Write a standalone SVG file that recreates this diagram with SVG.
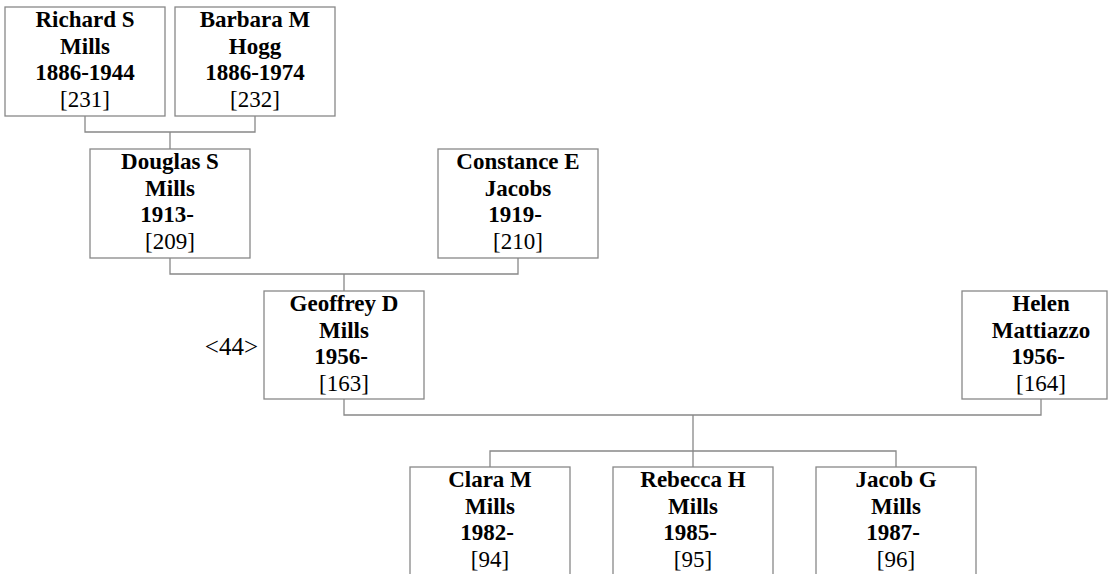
<svg xmlns="http://www.w3.org/2000/svg" width="1111" height="574" viewBox="0 0 1111 574">
<style>
.box{fill:#fff;stroke:#888;stroke-width:1.3}
.c{fill:none;stroke:#888;stroke-width:1.3}
.n{font-family:"Liberation Serif","Times New Roman",serif;font-size:23px;font-weight:bold;fill:#000;text-anchor:middle}
.i{font-family:"Liberation Serif","Times New Roman",serif;font-size:23px;fill:#000;text-anchor:middle}
.r{font-family:"Liberation Serif","Times New Roman",serif;font-size:25px;fill:#000;text-anchor:end}
</style>
<rect width="1111" height="574" fill="#fff"/>
<g id="connectors">
<path class="c" d="M85 116V132H255V116M170 132V149"/>
<path class="c" d="M170 258V274H518V258M344 274V291"/>
<path class="c" d="M344 399V415H1041V399M693 415V467M490 467V451H896V467"/>
</g>
<g id="richard">
<rect class="box" x="5" y="7" width="160" height="109"/>
<text class="n" x="85" y="27">Richard S</text>
<text class="n" x="85" y="53.5">Mills</text>
<text class="n" x="85" y="80">1886-1944</text>
<text class="i" x="85" y="106.5">[231]</text>
</g>
<g id="barbara">
<rect class="box" x="175" y="7" width="160" height="109"/>
<text class="n" x="255" y="27">Barbara M</text>
<text class="n" x="255" y="53.5">Hogg</text>
<text class="n" x="255" y="80">1886-1974</text>
<text class="i" x="255" y="106.5">[232]</text>
</g>
<g id="douglas">
<rect class="box" x="90" y="149" width="160" height="109"/>
<text class="n" x="170" y="169">Douglas S</text>
<text class="n" x="170" y="195.5">Mills</text>
<text class="n" x="167" y="222">1913-</text>
<text class="i" x="170" y="248.5">[209]</text>
</g>
<g id="constance">
<rect class="box" x="438" y="149" width="160" height="109"/>
<text class="n" x="518" y="169">Constance E</text>
<text class="n" x="518" y="195.5">Jacobs</text>
<text class="n" x="515" y="222">1919-</text>
<text class="i" x="518" y="248.5">[210]</text>
</g>
<g id="geoffrey">
<rect class="box" x="264" y="291" width="160" height="108"/>
<text class="n" x="344" y="311">Geoffrey D</text>
<text class="n" x="344" y="337.5">Mills</text>
<text class="n" x="341" y="364">1956-</text>
<text class="i" x="344" y="390.5">[163]</text>
<text class="r" x="258" y="355">&lt;44&gt;</text>
</g>
<g id="helen">
<rect class="box" x="962" y="291" width="145" height="108"/>
<text class="n" x="1041" y="311">Helen</text>
<text class="n" x="1041" y="337.5">Mattiazzo</text>
<text class="n" x="1038" y="364">1956-</text>
<text class="i" x="1041" y="390.5">[164]</text>
</g>
<g id="clara">
<rect class="box" x="410" y="467" width="160" height="110"/>
<text class="n" x="490" y="487">Clara M</text>
<text class="n" x="490" y="513.5">Mills</text>
<text class="n" x="487" y="540">1982-</text>
<text class="i" x="490" y="566.5">[94]</text>
</g>
<g id="rebecca">
<rect class="box" x="613" y="467" width="160" height="110"/>
<text class="n" x="693" y="487">Rebecca H</text>
<text class="n" x="693" y="513.5">Mills</text>
<text class="n" x="690" y="540">1985-</text>
<text class="i" x="693" y="566.5">[95]</text>
</g>
<g id="jacob">
<rect class="box" x="816" y="467" width="160" height="110"/>
<text class="n" x="896" y="487">Jacob G</text>
<text class="n" x="896" y="513.5">Mills</text>
<text class="n" x="893" y="540">1987-</text>
<text class="i" x="896" y="566.5">[96]</text>
</g>
</svg>
